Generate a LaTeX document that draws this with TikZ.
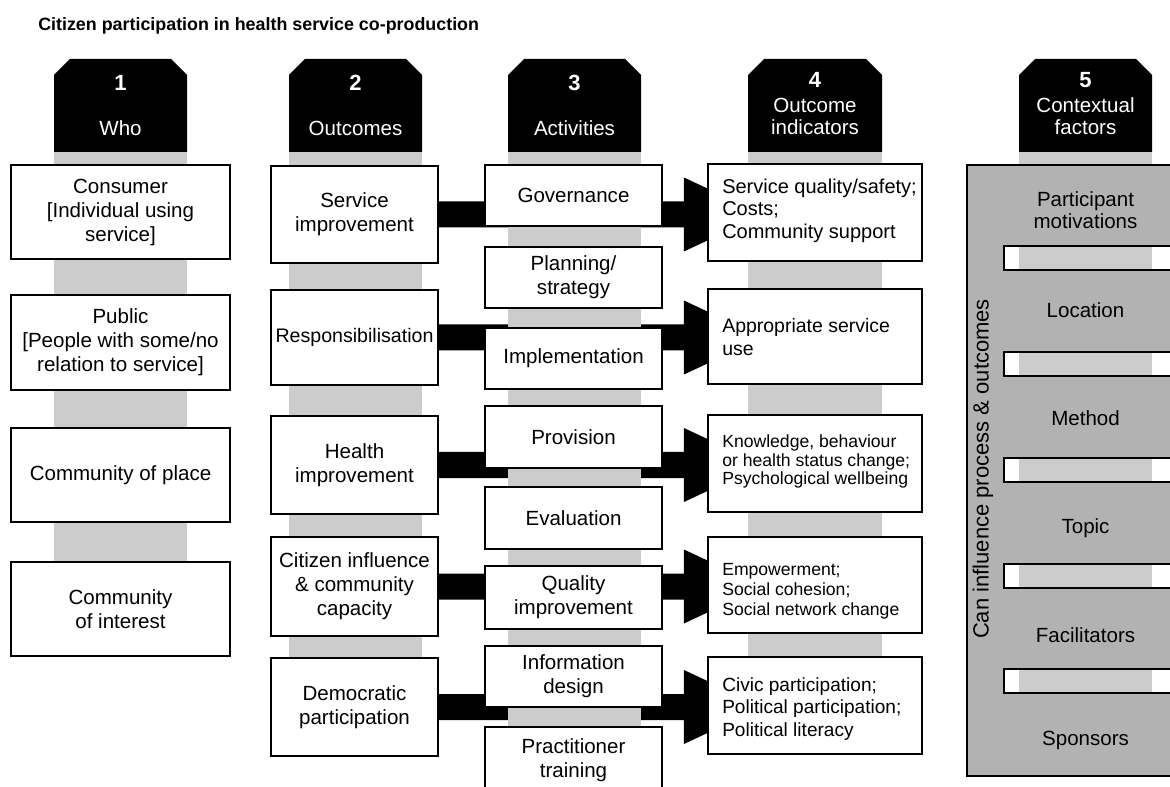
\documentclass[tikz,border=0pt]{standalone}
\usepackage{fontspec}
\setmainfont{Liberation Sans}
\usetikzlibrary{calc}
\pgfdeclarelayer{back}
\pgfdeclarelayer{mid}
\pgfsetlayers{back,mid,main}
\definecolor{bandgray}{gray}{0.80}
\definecolor{ctxgray}{gray}{0.70}
\newcommand\titlefont{\fontsize{13.4}{16}\selectfont\bfseries}
\newcommand\bodyfont{\fontsize{15.4}{18}\selectfont}
\newcommand\numfont{\fontsize{16.5}{18}\selectfont\bfseries}
\newcommand\headfont{\fontsize{15.4}{16.5}\selectfont}
\newcommand\rotfont{\fontsize{16.5}{18}\selectfont}
% black header tab with chamfered top corners, spanning x = #1 .. #2
\newcommand\headtab[2]{\fill[black] (#1,152) -- (#1,75) -- (#1+16,59) -- (#2-16,59) -- (#2,75) -- (#2,152) -- cycle;}
% thick arrow from an outcome box to its indicator box
\newcommand\bigarrow[2]{%
  \fill[black] ($(#1.east)+(0,-13)$) -- ($(#1.east -| #2.west)+(-23,-13)$) -- ++(0,-24) -- ++(79,37)
    -- ++(-79,37) -- ++(0,-24) -- ($(#1.east)+(0,13)$) -- cycle;}
\begin{document}
\begin{tikzpicture}[x=0.75pt,y=-0.75pt,
  box/.style={draw=black, line width=1.6pt, fill=white, inner sep=0pt, align=center, font=\bodyfont},
  sz/.style 2 args={minimum width=#1*0.75pt, minimum height=#2*0.75pt},
  tabtxt/.style={text=white, inner sep=0pt, align=center},
  indtxt/.style={anchor=west, inner sep=0pt, align=left},
  ctxtxt/.style={inner sep=0pt, align=center, font=\fontsize{15.4}{16.5}\selectfont}]
\useasboundingbox (0,0) rectangle (1170,787);
\clip (0,0) rectangle (1170,787);

\node[anchor=base west, inner sep=0pt, font=\titlefont] (title) at (38,31)
  {Citizen participation in health service co-production};

% vertical column bands
\begin{pgfonlayer}{mid}
  \fill[bandgray] (54,152) rectangle (187,609);
  \fill[bandgray] (289,152) rectangle (422,707);
  \fill[bandgray] (508,152) rectangle (641,787);
  \fill[bandgray] (748,152) rectangle (882,705);
  \fill[bandgray] (1019,152) rectangle (1152,170);
\end{pgfonlayer}

% header tabs
\headtab{54}{187}
\headtab{289}{422}
\headtab{508}{641}
\headtab{748}{882}
\headtab{1019}{1152}
\node[tabtxt, font=\numfont] (n1) at (120.5,83) {1};
\node[tabtxt, font=\headfont] (h1) at (120.5,128) {Who};
\node[tabtxt, font=\numfont] (n2) at (355.5,83) {2};
\node[tabtxt, font=\headfont] (h2) at (355.5,128) {Outcomes};
\node[tabtxt, font=\numfont] (n3) at (574.5,83) {3};
\node[tabtxt, font=\headfont] (h3) at (574.5,128) {Activities};
\node[tabtxt, font=\numfont] (n4) at (815,80) {4};
\node[tabtxt, font=\headfont] (h4) at (815,116) {Outcome\\indicators};
\node[tabtxt, font=\numfont] (n5) at (1085.5,80) {5};
\node[tabtxt, font=\headfont] (h5) at (1085.5,116) {Contextual\\factors};

% column 1: who
\node[box, sz={219}{94}] (w1) at (120.5,212) {Consumer\\{[}Individual using\\service{]}};
\node[box, sz={219}{95}] (w2) at (120.5,342.5) {Public\\{[}People with some/no\\relation to service{]}};
\node[box, sz={219}{94}] (w3) at (120.5,475) {Community of place};
\node[box, sz={219}{94}] (w4) at (120.5,609) {Community\\of interest};

% column 2: outcomes
\node[box, sz={167}{97}] (s1) at (354.5,214.5) {Service\\improvement};
\node[box, sz={167}{95}, font=\fontsize{14.7}{18}\selectfont] (s2) at (354.5,337.5) {Responsibilisation};
\node[box, sz={167}{98}] (s3) at (354.5,465) {Health\\improvement};
\node[box, sz={167}{99}] (s4) at (354.5,586.5) {Citizen influence\\\& community\\capacity};
\node[box, sz={167}{98}] (s5) at (354.5,707) {Democratic\\participation};

% column 3: activities
\node[box, sz={177}{61}] (a1) at (573.5,195.5) {Governance};
\node[box, sz={177}{61}] (a2) at (573.5,277.5) {Planning/\\strategy};
\node[box, sz={177}{61}] (a3) at (573.5,358.5) {Implementation};
\node[box, sz={177}{62}] (a4) at (573.5,437) {Provision};
\node[box, sz={177}{62}] (a5) at (573.5,518) {Evaluation};
\node[box, sz={177}{63}] (a6) at (573.5,597.5) {Quality\\improvement};
\node[box, sz={177}{61}] (a7) at (573.5,676.5) {Information\\design};
\node[box, sz={177}{66}] (a8) at (573.5,760) {Practitioner\\training};

% column 4: outcome indicators
\node[box, sz={214}{97}] (o1) at (815,212.5) {};
\node[box, sz={214}{95}] (o2) at (815,336.5) {};
\node[box, sz={214}{97}] (o3) at (815,463.5) {};
\node[box, sz={214}{96}] (o4) at (815,585) {};
\node[box, sz={214}{97}] (o5) at (815,705.5) {};
\node[indtxt, font=\fontsize{15}{17}\selectfont] (i1) at (722,210.5)
  {Service quality/safety;\\Costs;\\Community support};
\node[indtxt, font=\fontsize{14.6}{17}\selectfont] (i2) at (722,337)
  {Appropriate service\\use};
\node[indtxt, font=\fontsize{13.2}{13.6}\selectfont] (i3) at (722,461.5)
  {Knowledge, behaviour\\or health status change;\\Psychological wellbeing};
\node[indtxt, font=\fontsize{13.2}{15}\selectfont] (i4) at (722,591.5)
  {Empowerment;\\Social cohesion;\\Social network change};
\node[indtxt, font=\fontsize{14.3}{17}\selectfont] (i5) at (722,709)
  {Civic participation;\\Political participation;\\Political literacy};

% arrows from outcomes to indicators
\begin{pgfonlayer}{back}
  \bigarrow{s1}{o1}
  \bigarrow{s2}{o2}
  \bigarrow{s3}{o3}
  \bigarrow{s4}{o4}
  \bigarrow{s5}{o5}
\end{pgfonlayer}

% column 5: contextual factors
\node[draw=black, line width=1.6pt, fill=ctxgray, anchor=north west, inner sep=0pt, sz={260}{611}] (ctx) at (966,164) {};
\foreach \yy in {246,352,458,564,669}{
  \fill[white] (1004,\yy) rectangle (1200,\yy+24);
  \fill[bandgray] (1019,\yy) rectangle (1152,\yy+24);
  \draw[line width=1.6pt] (1004,\yy) rectangle (1200,\yy+24);
}
\node[ctxtxt] (f1) at (1085.5,210) {Participant\\motivations};
\node[ctxtxt] (f2) at (1085.5,310) {Location};
\node[ctxtxt] (f3) at (1085.5,418) {Method};
\node[ctxtxt] (f4) at (1085.5,528) {Topic};
\node[ctxtxt] (f5) at (1085.5,635) {Facilitators};
\node[ctxtxt] (f6) at (1085.5,740) {Sponsors};
\node[rotate=90, inner sep=0pt, font=\rotfont] (ctxlabel) at (983,469) {Can influence process \& outcomes};
\end{tikzpicture}
\end{document}
